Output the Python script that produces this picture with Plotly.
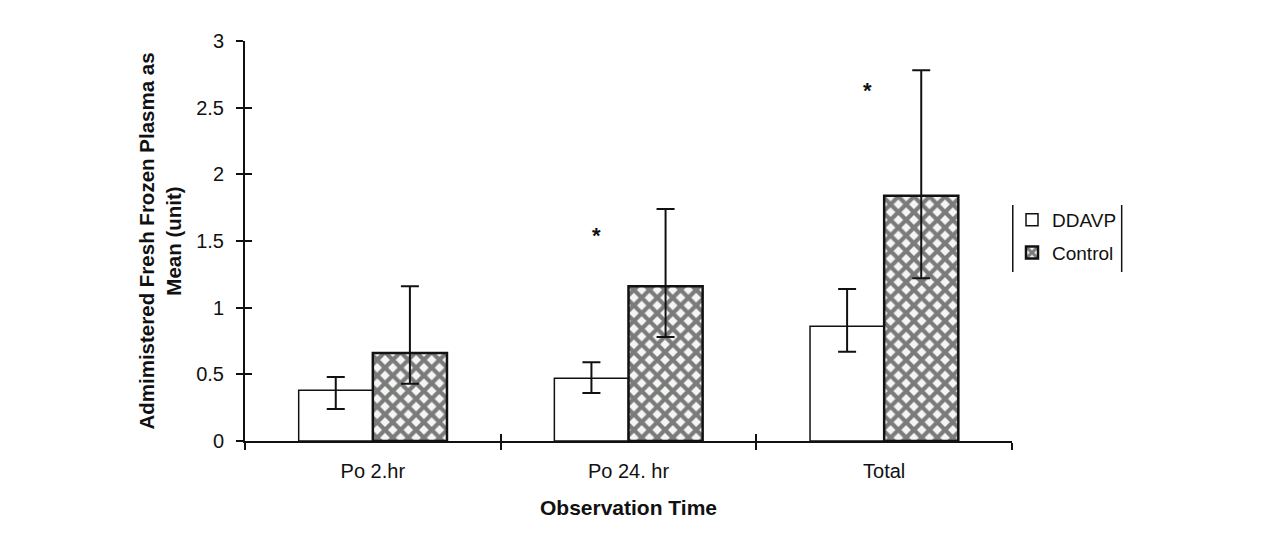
import plotly.graph_objects as go

categories = ["Po 2.hr", "Po 24. hr", "Total"]
ddavp_mean = [0.38, 0.47, 0.86]
ddavp_upper = [0.48, 0.59, 1.14]
ddavp_lower = [0.24, 0.36, 0.67]
control_mean = [0.66, 1.16, 1.84]
control_upper = [1.16, 1.74, 2.78]
control_lower = [0.43, 0.78, 1.22]
y_ticks = [0, 0.5, 1, 1.5, 2, 2.5, 3]
y_tick_labels = ["0", "0.5", "1", "1.5", "2", "2.5", "3"]

FONT = "Liberation Sans, Arial, sans-serif"

fig = go.Figure()

fig.add_trace(go.Bar(
    name="DDAVP", x=categories, y=ddavp_mean, legendgroup="a",
    marker=dict(color="white", line=dict(color="#111", width=1.5)),
    error_y=dict(type="data", symmetric=False,
                 array=[u - m for u, m in zip(ddavp_upper, ddavp_mean)],
                 arrayminus=[m - l for m, l in zip(ddavp_mean, ddavp_lower)],
                 color="#111", thickness=2, width=9),
))
fig.add_trace(go.Bar(
    name="Control", x=categories, y=control_mean, legendgroup="b",
    marker=dict(color="white", line=dict(color="#111", width=2.5),
                pattern=dict(shape="x", fgcolor="#000", bgcolor="#f4f6f4",
                             size=11, solidity=0.62)),
    error_y=dict(type="data", symmetric=False,
                 array=[u - m for u, m in zip(control_upper, control_mean)],
                 arrayminus=[m - l for m, l in zip(control_mean, control_lower)],
                 color="#111", thickness=2, width=9),
))

# dummy trace for overlay axes (cross ticks)
fig.add_trace(go.Scatter(x=[None], y=[None], xaxis="x2", yaxis="y2",
                         showlegend=False, hoverinfo="skip"))

fig.update_layout(
    width=1271, height=546,
    margin=dict(l=237, r=267, t=33, b=113, autoexpand=False),
    paper_bgcolor="white", plot_bgcolor="white",
    barmode="group", bargap=0.42, bargroupgap=0,
    font=dict(family=FONT, color="#111"),
    showlegend=True,
    legend=dict(x=1.0, y=0.6, xanchor="left", yanchor="top",
                font=dict(size=19, family=FONT, color="#111"),
                bgcolor="rgba(0,0,0,0)", borderwidth=0,
                itemwidth=30, tracegroupgap=5),
    xaxis=dict(
        type="category", range=[-0.5, 2.5], automargin=False,
        showline=True, linecolor="#111", linewidth=2,
        ticks="outside", tickson="boundaries", ticklen=7, tickwidth=2, tickcolor="#111",
        ticklabelstandoff=11,
        showgrid=False, zeroline=False,
        tickfont=dict(size=20, family=FONT, color="#111"),
        title=dict(text="<b>Observation Time</b>", font=dict(size=21, family=FONT, color="#111"),
                   standoff=19),
    ),
    yaxis=dict(
        range=[0, 3], tickvals=y_ticks, ticktext=y_tick_labels, automargin=False,
        showline=True, linecolor="#111", linewidth=2,
        ticks="outside", ticklen=7, tickwidth=2, tickcolor="#111",
        ticklabelstandoff=8,
        showgrid=False, zeroline=False,
        tickfont=dict(size=20, family=FONT, color="#111"),
        title=dict(text="<b>Admimistered Fresh Frozen Plasma as<br>Mean (unit)</b>",
                   font=dict(size=20.5, family=FONT, color="#111"), standoff=9),
    ),
    xaxis2=dict(overlaying="x", range=[-0.5, 2.5], tickvals=[0.5, 1.5],
                ticks="inside", ticklen=7, tickwidth=2, tickcolor="#111",
                showticklabels=False, showgrid=False, zeroline=False, showline=False),
    yaxis2=dict(overlaying="y", range=[0, 3], tickvals=y_ticks,
                ticks="inside", ticklen=7, tickwidth=2, tickcolor="#111",
                showticklabels=False, showgrid=False, zeroline=False, showline=False),
    shapes=[
        dict(type="line", xref="paper", yref="paper", x0=1.001, x1=1.001, y0=0.4225, y1=0.59,
             line=dict(color="#111", width=1.5)),
        dict(type="line", xref="paper", yref="paper", x0=1.143, x1=1.143, y0=0.4225, y1=0.59,
             line=dict(color="#111", width=1.5)),
    ],
    annotations=[
        dict(x="Po 24. hr", y=1.54, text="<b>*</b>", showarrow=False, xshift=-32,
             font=dict(size=22, family=FONT, color="#111")),
        dict(x="Total", y=2.63, text="<b>*</b>", showarrow=False, xshift=-17,
             font=dict(size=22, family=FONT, color="#111")),
    ],
)

fig.write_html("out.html")
